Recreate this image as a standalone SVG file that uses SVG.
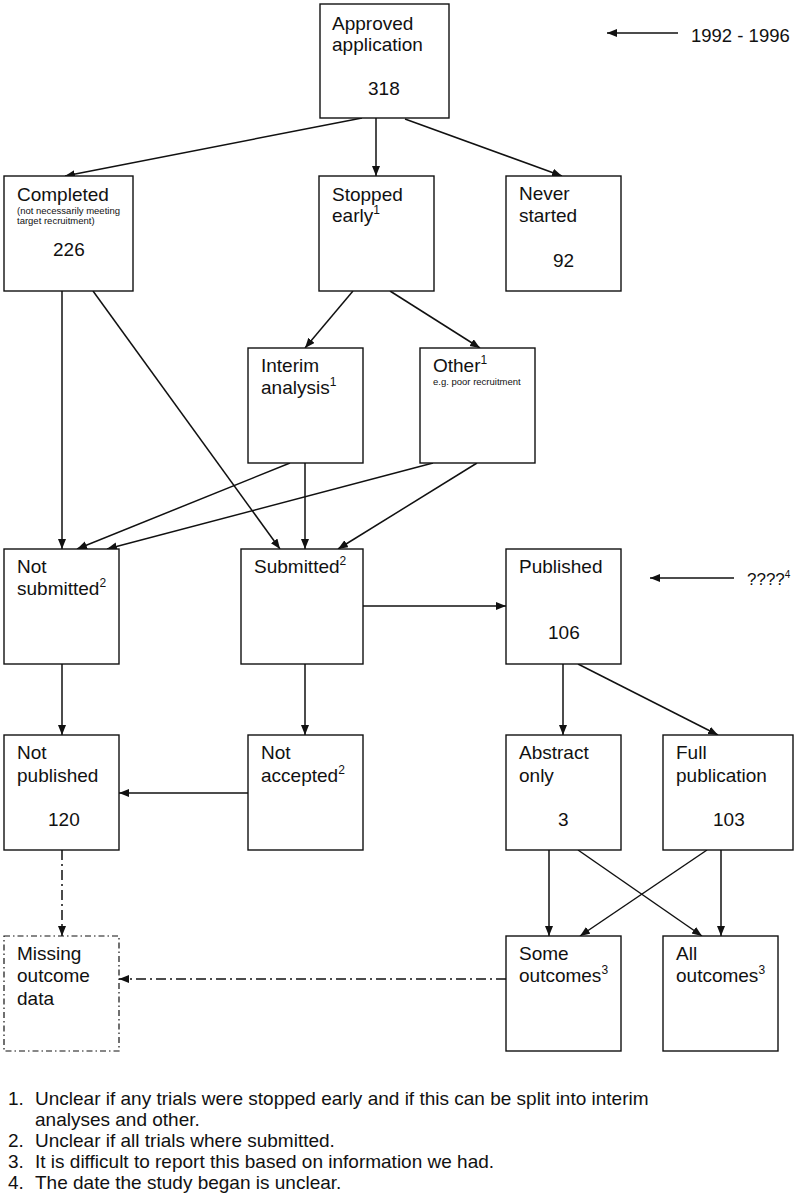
<svg xmlns="http://www.w3.org/2000/svg" width="800" height="1200" viewBox="0 0 800 1200">
<style>
.box{fill:#fff;stroke:#111;stroke-width:1.4}
.dbox{fill:#fff;stroke:#111;stroke-width:1.2;stroke-dasharray:6 3 1.5 3}
.t{font-family:"Liberation Sans",Arial,sans-serif;font-size:19px;fill:#111}
.s{font-family:"Liberation Sans",Arial,sans-serif;font-size:9.5px;fill:#111}
.sup{font-size:12px}
.c{stroke:#111;stroke-width:1.5;fill:none;marker-end:url(#ah)}
.dd{stroke-dasharray:10 4 2 4}
</style>
<defs>
<marker id="ah" markerUnits="userSpaceOnUse" markerWidth="11" markerHeight="9" refX="10" refY="4" orient="auto">
<path d="M0,0 L10,4 L0,8 z" fill="#111"/>
</marker>
</defs>
<g id="connectors">
<line class="c" x1="362" y1="118" x2="65" y2="176"/>
<line class="c" x1="376" y1="118" x2="376" y2="176"/>
<line class="c" x1="405" y1="119" x2="562" y2="176"/>
<line class="c" x1="353" y1="291" x2="305" y2="348"/>
<line class="c" x1="390" y1="291" x2="480" y2="348"/>
<line class="c" x1="62" y1="291" x2="62" y2="549"/>
<line class="c" x1="93" y1="291" x2="280" y2="549"/>
<line class="c" x1="290" y1="463" x2="77" y2="549"/>
<line class="c" x1="433" y1="463" x2="107" y2="549"/>
<line class="c" x1="305" y1="463" x2="305" y2="549"/>
<line class="c" x1="477" y1="463" x2="338" y2="549"/>
<line class="c" x1="363" y1="606" x2="506" y2="606"/>
<line class="c" x1="678" y1="33" x2="607" y2="33"/>
<line class="c" x1="734" y1="578" x2="650" y2="578"/>
<line class="c" x1="62" y1="664" x2="62" y2="735"/>
<line class="c" x1="305" y1="664" x2="305" y2="735"/>
<line class="c" x1="248" y1="793" x2="119" y2="793"/>
<line class="c" x1="563" y1="664" x2="563" y2="735"/>
<line class="c" x1="578" y1="664" x2="718" y2="735"/>
<line class="c" x1="549" y1="850" x2="549" y2="936"/>
<line class="c" x1="578" y1="850" x2="702" y2="936"/>
<line class="c" x1="707" y1="850" x2="580" y2="936"/>
<line class="c" x1="721" y1="850" x2="721" y2="936"/>
<line class="c dd" x1="62" y1="850" x2="62" y2="936"/>
<line class="c dd" x1="506" y1="979" x2="119" y2="979"/>
</g>
<g id="approved"><rect class="box" x="320" y="4" width="129" height="114"/>
<text class="t" x="332" y="30">Approved</text><text class="t" x="332" y="51">application</text><text class="t" x="368" y="95">318</text></g>
<g id="completed"><rect class="box" x="4" y="176" width="129" height="115"/>
<text class="t" x="17" y="201">Completed</text><text class="s" x="17" y="214">(not necessarily meeting</text><text class="s" x="17" y="224">target recruitment)</text><text class="t" x="53" y="256">226</text></g>
<g id="stopped"><rect class="box" x="319" y="176" width="115" height="115"/>
<text class="t" x="332" y="201">Stopped</text><text class="t" x="332" y="222">early<tspan class="sup" dy="-8">1</tspan></text></g>
<g id="never"><rect class="box" x="506" y="176" width="115" height="115"/>
<text class="t" x="519" y="200">Never</text><text class="t" x="519" y="222">started</text><text class="t" x="553" y="267">92</text></g>
<g id="interim"><rect class="box" x="248" y="348" width="115" height="115"/>
<text class="t" x="261" y="372">Interim</text><text class="t" x="261" y="394">analysis<tspan class="sup" dy="-8">1</tspan></text></g>
<g id="other"><rect class="box" x="420" y="348" width="115" height="115"/>
<text class="t" x="433" y="372">Other<tspan class="sup" dy="-8">1</tspan></text><text class="s" x="433" y="385">e.g. poor recruitment</text></g>
<g id="notsubmitted"><rect class="box" x="4" y="549" width="115" height="115"/>
<text class="t" x="17" y="573">Not</text><text class="t" x="17" y="595">submitted<tspan class="sup" dy="-8">2</tspan></text></g>
<g id="submitted"><rect class="box" x="241" y="549" width="122" height="115"/>
<text class="t" x="254" y="573">Submitted<tspan class="sup" dy="-8">2</tspan></text></g>
<g id="published"><rect class="box" x="506" y="549" width="115" height="115"/>
<text class="t" x="519" y="573">Published</text><text class="t" x="548" y="639">106</text></g>
<g id="notpublished"><rect class="box" x="4" y="735" width="115" height="115"/>
<text class="t" x="17" y="759">Not</text><text class="t" x="17" y="782">published</text><text class="t" x="48" y="826">120</text></g>
<g id="notaccepted"><rect class="box" x="248" y="735" width="115" height="115"/>
<text class="t" x="261" y="759">Not</text><text class="t" x="261" y="782">accepted<tspan class="sup" dy="-8">2</tspan></text></g>
<g id="abstract"><rect class="box" x="506" y="735" width="115" height="115"/>
<text class="t" x="519" y="759">Abstract</text><text class="t" x="519" y="782">only</text><text class="t" x="558" y="826">3</text></g>
<g id="full"><rect class="box" x="663" y="735" width="130" height="115"/>
<text class="t" x="676" y="759">Full</text><text class="t" x="676" y="782">publication</text><text class="t" x="713" y="826">103</text></g>
<g id="missing"><rect class="dbox" x="4" y="936" width="115" height="115"/>
<text class="t" x="17" y="960">Missing</text><text class="t" x="17" y="982">outcome</text><text class="t" x="17" y="1005">data</text></g>
<g id="some"><rect class="box" x="506" y="936" width="115" height="115"/>
<text class="t" x="519" y="960">Some</text><text class="t" x="519" y="982">outcomes<tspan class="sup" dy="-8">3</tspan></text></g>
<g id="all"><rect class="box" x="663" y="936" width="115" height="115"/>
<text class="t" x="676" y="960">All</text><text class="t" x="676" y="982">outcomes<tspan class="sup" dy="-8">3</tspan></text></g>
<g id="date1"><text class="t" x="691" y="42" style="font-size:18.5px">1992 - 1996</text></g>
<g id="date2"><text class="t" x="747" y="585" style="font-size:17px">????<tspan class="sup" style="font-size:10px" dy="-7">4</tspan></text></g>
<g id="footnotes">
<text class="t" x="8" y="1105">1.</text><text class="t" x="35" y="1105">Unclear if any trials were stopped early and if this can be split into interim</text>
<text class="t" x="35" y="1126">analyses and other.</text>
<text class="t" x="8" y="1147">2.</text><text class="t" x="35" y="1147">Unclear if all trials where submitted.</text>
<text class="t" x="8" y="1168">3.</text><text class="t" x="35" y="1168">It is difficult to report this based on information we had.</text>
<text class="t" x="8" y="1189">4.</text><text class="t" x="35" y="1189">The date the study began is unclear.</text>
</g>
</svg>
